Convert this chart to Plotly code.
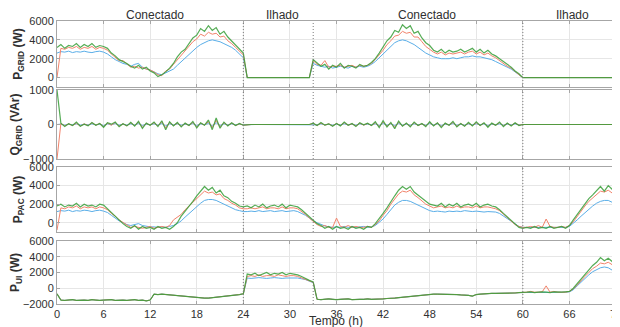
import plotly.graph_objects as go
from plotly.subplots import make_subplots

# ---------------- data (sampled every 0.5 h, 0..72 h) ----------------
T_STEP = 0.5
N = 145
TIME = [i * T_STEP for i in range(N)]
X_TICKS = [0, 6, 12, 18, 24, 30, 36, 42, 48, 54, 60, 66, 72]

# P_GRID (W): connected 0-24 h and 33-60 h, zero when islanded
PG_B_C1 = [2600, 2750, 2700, 2800, 2650, 2750, 2700, 2800, 2700, 2650, 2750, 2800, 2700,
           2500, 2200, 1900, 1700, 1500, 1400,
           1200, 1400, 1500, 1100, 900, 800, 600, 400, 300, 500, 700, 900, 1300, 1700, 2100,
           2500, 2900, 3200, 3500, 3700, 3900, 4000, 3900, 3800, 3600, 3400, 3200, 2900, 2500, 2100]
PG_B_C2 = [1500, 1300, 1200, 1100, 1200, 1000, 1100, 1200, 1100, 1000,
           1200, 1100, 1200, 1100, 1200, 1400, 1700, 2100, 2600, 3000,
           3400, 3700, 3900, 4000, 3900, 3700, 3500, 3200, 2900, 2600,
           2400, 2200, 2100, 2000, 2000, 2000, 2100, 2000, 2100, 2200,
           2200, 2300, 2200, 2200, 2100, 2000, 1900, 1700, 1500, 1300,
           1100, 900, 600, 300, 0]
PG_G_C1 = [3200, 3500, 3100, 3400, 3300, 3600, 3200, 3500, 3300, 3600, 3200, 3400, 3300,
           3100, 2600, 2300, 1900, 1700, 1500,
           1200, 1000, 1300, 900, 1100, 700, 500, 100, 300, 600, 1000, 1500, 2200, 2700, 3000,
           3600, 4200, 4500, 5200, 4900, 5500, 5000, 5300, 4600, 4900, 4300, 3900, 3500, 3100, 2600]
PG_G_C2 = [1900, 1500, 1200, 1400, 900, 1300, 1100, 1500, 1000, 1300,
           1200, 1000, 1400, 1200, 1300, 1600, 2000, 2600, 3200, 3900,
           4300, 5000, 4800, 5600, 5200, 5500, 4700, 4900, 4200, 3700,
           3400, 2900, 2700, 3000, 2600, 2900, 2700, 2800, 3000, 2700,
           2900, 3100, 2700, 3000, 2600, 2900, 2500, 2300, 2000, 1700,
           1400, 1100, 700, 400, 0]
PG_O_C1 = [0, 3100, 3000, 3200, 3100, 3300, 3000, 3200, 3100, 3300, 3000, 3200, 3100,
           2900, 2500, 2100, 1800, 1800, 1400,
           1100, 1200, 1000, 1100, 900, 800, 600, 300, 200, 700, 900, 1400, 1900, 2400, 2800,
           3300, 3800, 4100, 4600, 4400, 4800, 4600, 4700, 4300, 4400, 3900, 3600, 3200, 2800, 2400]
PG_O_C2 = [1800, 1400, 1300, 1800, 1100, 1200, 1200, 1300, 1100, 1200,
           1300, 1100, 1300, 1200, 1300, 1500, 1900, 2400, 2900, 3500,
           3900, 4400, 4500, 4900, 4700, 4800, 4300, 4300, 3800, 3300,
           3000, 2700, 2500, 2700, 2400, 2600, 2500, 2600, 2700, 2500,
           2700, 2800, 2500, 2700, 2400, 2600, 2300, 2100, 1800, 1500,
           1200, 1000, 600, 300, 0]
ISL1_ZEROS = [0] * 17
ISL2_ZEROS = [0] * 24
PG_B = PG_B_C1 + ISL1_ZEROS + PG_B_C2 + ISL2_ZEROS
PG_O = PG_O_C1 + ISL1_ZEROS + PG_O_C2 + ISL2_ZEROS
PG_G = PG_G_C1 + ISL1_ZEROS + PG_G_C2 + ISL2_ZEROS

# Q_GRID (VAr)
QG_C1 = [40, -60, 20, -30, 70, -50, 10, -40,
         60, -20, 30, -80, 50, 10, 70, -60,
         20, -40, 60, -50, 90, -110, 40, -20,
         70, -60, 110, -150, 80, -40, 60, -70,
         40, -30, 90, -100, 50, -20, 130, -150,
         190, -110, 70, -40, 50, -30, 30, -20]
QG_C2 = [40, -30, 60, -20, 20, -50, 30, -40, 70, -20,
         30, -60, 50, -10, 40, -30, 80, -90, 110, -70,
         60, -120, 100, -50, 40, -70, 70, -30, 30, -60,
         80, -40, 50, -90, 40, -20, 90, -70, 30, -50,
         60, -40, 80, -30, 50, -80, 40, -20, 70, -60,
         40, -40, 50, -30, 0]
QO_C1 = [30, -40, 20, -30, 40, -50, 20, -30,
         50, -20, 30, -60, 40, -20, 60, -50,
         20, -40, 50, -30, 70, -80, 30, -20,
         50, -40, 80, -100, 60, -30, 40, -50,
         30, -30, 60, -70, 40, -20, 80, -90,
         120, -70, 50, -30, 40, -30, 20, -20]
QO_C2 = [30, -30, 40, -20, 20, -40, 30, -30, 50, -20,
         20, -40, 40, -20, 30, -30, 50, -60, 70, -50,
         40, -80, 70, -40, 30, -50, 50, -30, 20, -40,
         60, -30, 40, -60, 30, -20, 60, -50, 30, -40,
         40, -30, 50, -30, 40, -60, 30, -20, 50, -40,
         30, -30, 40, -20, 0]
QB_C1 = [10, -20, 10, -10, 20, -20, 10, -10,
         20, -10, 10, -30, 20, -10, 30, -20,
         10, -20, 20, -10, 30, -30, 10, -10,
         20, -20, 30, -40, 20, -10, 20, -20,
         10, -10, 30, -30, 20, -10, 30, -40,
         50, -30, 20, -10, 20, -10, 10, -10]
QB_C2 = [10, -10, 20, -10, 10, -20, 10, -10, 20, -10,
         10, -20, 20, -10, 10, -10, 20, -30, 30, -20,
         20, -30, 30, -20, 10, -20, 20, -10, 10, -20,
         30, -10, 20, -30, 10, -10, 30, -20, 10, -20,
         20, -10, 20, -10, 20, -30, 10, -10, 20, -20,
         10, -10, 20, -10, 0]
QG = [1000] + QG_C1 + ISL1_ZEROS + QG_C2 + ISL2_ZEROS
QO = [-1000] + QO_C1 + ISL1_ZEROS + QO_C2 + ISL2_ZEROS
QB = [0] + QB_C1 + ISL1_ZEROS + QB_C2 + ISL2_ZEROS

# P_PAC (W)
PP_B = [1200, 1300, 1250, 1350, 1200, 1300, 1250, 1350, 1300, 1200, 1300, 1350, 1250,
        1100, 800, 500, 200, 0, -200,
        -300, -200, -100, -300, -400, -450, -450, -500, -450, -500, -400, -300, -100, 200, 600,
        1000, 1400, 1800, 2100, 2400, 2500, 2500, 2400, 2200, 2000, 1800, 1600, 1400, 1300, 1200,
        1200, 1250, 1200, 1300, 1200, 1250, 1300, 1200, 1250, 1300, 1200, 1250, 1300, 1200,
        1000, 800, 500, 200, 0, -200, -350, -450,
        -500, -450, -500, -400, -500, -450, -500, -450, -400, -500, -450,
        -300, 0, 400, 900, 1400, 1900, 2200, 2400, 2400, 2300, 2100, 1900, 1700, 1500, 1300,
        1200, 1250, 1200, 1150, 1250, 1200, 1250, 1200, 1300, 1250, 1200, 1250, 1200, 1150, 1200,
        1200, 1150, 1000, 700, 400, 100, -200, -400, -500,
        -500, -450, -500, -500, -450, -500, -500, -450, -500, -450, -500,
        -400, -100, 300, 700, 1100, 1500, 1800, 2100, 2300, 2400, 2400, 2200, 2000]
PP_G = [1800, 2000, 1700, 1900, 1800, 2100, 1700, 2000, 1800, 1900, 1700, 2000, 1900,
        1500, 1000, 600, 200, -100, -400,
        -600, -300, -700, -400, -600, -500, -700, -400, -600, -500, -700, -400, 0, 700, 1200,
        1700, 2300, 2900, 3400, 3900, 3500, 3800, 3200, 3500, 2900, 2700, 2300, 2100, 1800, 1700,
        1800, 1600, 1900, 1700, 2000, 1600, 1800, 1900, 1700, 2000, 1600, 1900, 1800, 1700,
        1400, 1000, 600, 200, -100, -300, -600, -400,
        -700, -400, -600, -500, -700, -400, -600, -500, -700, -400, -500,
        -100, 400, 1000, 1600, 2300, 2900, 3500, 3900, 3600, 3900, 3300, 3000, 2600, 2300, 2000,
        1900, 1800, 2100, 1700, 2000, 1800, 2100, 1700, 1900, 2000, 1800, 2100, 1700, 1900, 2000,
        1800, 1700, 1400, 1000, 600, 200, -200, -500, -600,
        -500, -600, -400, -600, -500, -600, -400, -600, -500, -400, -600,
        -300, 300, 900, 1500, 2000, 2600, 3000, 3500, 3900, 3400, 4000, 3600, 3100]
PP_O = [-800, 1600, 1500, 1700, 1600, 1800, 1500, 1700, 1600, 1700, 1500, 1700, 1600,
        1400, 1000, 700, 300, 0, -300,
        -500, -400, -500, -600, -500, -400, -600, -500, -400, -500, -300, 300, 600, 900, 1400,
        1800, 2200, 2600, 3000, 3400, 3200, 3300, 3000, 3100, 2600, 2400, 2100, 1900, 1600, 1500,
        1500, 1600, 1500, 1600, 1700, 1500, 1600, 1600, 1500, 1700, 1500, 1600, 1600, 1500,
        1200, 900, 500, 100, -200, -400, -300, -500,
        -500, 500, -400, -500, -300, -500, -400, -500, -500, -400, -500,
        -200, 200, 800, 1300, 2000, 2600, 3100, 3400, 3300, 3500, 3000, 2700, 2300, 2000, 1800,
        1600, 1700, 1800, 1600, 1700, 1600, 1800, 1600, 1700, 1700, 1600, 1800, 1600, 1700, 1700,
        1600, 1500, 1300, 900, 500, 100, -200, -400, -500,
        -500, -400, -500, -300, -500, 400, -400, -500, -500, -400, -500,
        -300, 100, 700, 1200, 1800, 2300, 2700, 3100, 3400, 3300, 3500, 3200, 2700]

# P_UI (W): identical for all cases while connected
PU_C1 = [-700,
         -1500, -1550, -1500, -1450, -1550, -1500, -1500, -1550, -1450, -1500, -1550, -1500,
         -1500, -1450, -1550, -1500, -1500, -1550, -1500, -1450, -1550, -1500, -1600, -1500,
         -750, -800, -750, -800, -850, -900, -950, -1000, -1050, -1100, -1150, -1200,
         -1250, -1250, -1250, -1200, -1150, -1100, -1050, -1000, -950, -850, -800, -700]
PU_C2 = [-1400, -1450, -1400, -1350, -1400, -1450, -1400, -1400, -1350, -1450, -1400, -1400,
         -1400, -1350, -1400, -1400, -1350, -1350,
         -1300, -1300, -1250, -1200, -1150, -1100, -1050, -1000, -950, -900, -850, -750,
         -750, -750, -750, -750, -800, -800, -800, -850, -850, -900, -1000, -800,
         -750, -700, -700, -650, -650, -650, -600, -600, -600, -600, -550, -550]
PU_G_I1 = [1800, 1700, 1900, 1600, 1800, 2000, 1700, 1900, 1800, 2000, 1700, 1900, 1800, 1700,
           1500, 1200, 1000, 800]
PU_B_I1 = [1300, 1250, 1300, 1350, 1300, 1250, 1300, 1350, 1300, 1250, 1300, 1300, 1250, 1300,
           1200, 1100, 900, 700]
PU_O_I1 = [1500, 1600, 1500, 1700, 1500, 1600, 1600, 1500, 1700, 1600, 1500, 1600, 1600, 1500,
           1300, 1100, 900, 750]
PU_G_I2 = [-500, -450, -550, -500, -450, -500, -550, -450, -500, -500, -450,
           -400, 0, 600, 1200, 1800, 2400, 2900, 3300, 3900, 3500, 3800, 3400, 2900]
PU_B_I2 = [-500, -500, -550, -500, -500, -550, -500, -500, -550, -500, -500,
           -450, -200, 300, 800, 1300, 1700, 2100, 2400, 2600, 2700, 2600, 2300, 2000]
PU_O_I2 = [-500, -400, -500, -500, -450, 300, -500, -400, -500, -500, -500,
           -400, -100, 400, 1000, 1500, 2000, 2500, 2800, 3200, 3100, 3300, 3000, 2500]
PU_B = PU_C1 + PU_B_I1 + PU_C2 + PU_B_I2
PU_O = PU_C1 + PU_O_I1 + PU_C2 + PU_O_I2
PU_G = PU_C1 + PU_G_I1 + PU_C2 + PU_G_I2

for arr in (PG_B, PG_O, PG_G, QG, QO, QB, PP_B, PP_G, PP_O, PU_B, PU_O, PU_G):
    assert len(arr) == N, len(arr)

MODE_LABELS = ["Conectado", "Ilhado", "Conectado", "Ilhado"]
MODE_X = [12.6, 29.1, 47.6, 66.4]
MODE_SWITCH = [24, 33, 60]

# ---------------- figure ----------------
# the page body adds an 8 px offset; margins below compensate for it
W, H = 620, 327
OFF = 8
PLOT_L, PLOT_R, PLOT_T, PLOT_B = 57, 616, 20, 304          # page pixels
ML, MR = PLOT_L - OFF, W + OFF - PLOT_R
MT, MB = PLOT_T - OFF, H + OFF - PLOT_B
PH = PLOT_B - PLOT_T


def ypaper(px):
    return (PLOT_B - px) / PH


def dom(top_px, bot_px):
    return [ypaper(bot_px), ypaper(top_px)]


fig = make_subplots(rows=4, cols=1, shared_xaxes=True, vertical_spacing=0.02)

C_BLUE = "#5aaee8"
C_ORANGE = "#f2836b"
C_GREEN = "rgba(55,158,55,0.85)"

panels = [(PG_B, PG_O, PG_G), (QB, QO, QG), (PP_B, PP_O, PP_G), (PU_B, PU_O, PU_G)]
for r, (b, o, g) in enumerate(panels, start=1):
    for ys, c, w in ((b, C_BLUE, 1), (o, C_ORANGE, 1), (g, C_GREEN, 1.2)):
        fig.add_trace(go.Scatter(x=TIME, y=ys, mode="lines",
                                 line=dict(color=c, width=w), showlegend=False),
                      row=r, col=1)

domains = [dom(21, 87), dom(90, 159), dom(167, 232), dom(241, 304)]
yranges = [[-1000, 6000], [-1000, 1000], [-1000, 6000], [-2000, 6000]]
yticks = [[0, 2000, 4000, 6000], [-1000, 0, 1000], [0, 2000, 4000, 6000],
          [-2000, 0, 2000, 4000, 6000]]
ytitles = ["P<sub>GRID</sub> (W)", "Q<sub>GRID</sub> (VAr)", "P<sub>PAC</sub> (W)",
           "P<sub>UI</sub> (W)"]

AX_COL = "#a6a6a6"
TXT = "#303030"
for r in range(4):
    fig.update_yaxes(row=r + 1, col=1, domain=domains[r], range=yranges[r],
                     tickvals=yticks[r], showgrid=True, gridcolor="#e6e6e6",
                     zeroline=False, showline=True, linecolor=AX_COL, mirror="ticks",
                     ticks="inside", ticklen=3, tickcolor=AX_COL, automargin=False,
                     tickfont=dict(size=11, color=TXT),
                     title=dict(text="<b>" + ytitles[r] + "</b>", standoff=4,
                                font=dict(size=12, color=TXT)))
fig.update_xaxes(range=[0, 72], tickvals=X_TICKS, showgrid=True, gridcolor="#e6e6e6",
                 zeroline=False, showline=True, linecolor=AX_COL, mirror="ticks",
                 ticks="inside", ticklen=3, tickcolor=AX_COL, automargin=False,
                 ticklabeloverflow="allow",
                 tickfont=dict(size=11, color=TXT))

for xv in MODE_SWITCH:
    fig.add_vline(x=xv, line=dict(color="#7a7a7a", width=1, dash="1px,2px"),
                  row="all", col=1)

for lbl, xv in zip(MODE_LABELS, MODE_X):
    fig.add_annotation(x=xv, xref="x", y=ypaper(15), yref="paper",
                       text=lbl, showarrow=False, yanchor="middle",
                       font=dict(size=12, color=TXT))

fig.add_annotation(x=(336 - PLOT_L) / (PLOT_R - PLOT_L), xref="paper", y=ypaper(321),
                   yref="paper", text="Tempo (h)", showarrow=False, yanchor="middle",
                   font=dict(size=12, color=TXT))

fig.update_layout(width=W, height=H, margin=dict(l=ML, r=MR, t=MT, b=MB),
                  plot_bgcolor="white", paper_bgcolor="white",
                  font=dict(family="Liberation Sans, Arial, sans-serif", color=TXT))

fig.write_html("out.html")
